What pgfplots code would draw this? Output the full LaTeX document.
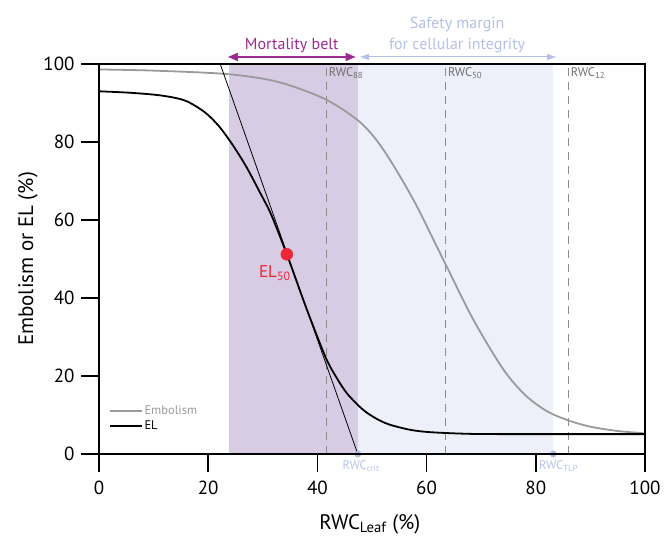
\documentclass[border=0pt]{standalone}
\usepackage{fontspec}
\setmainfont{PT Sans}
\usepackage{pgfplots}
\pgfplotsset{compat=1.18}
\usetikzlibrary{arrows.meta}
\definecolor{embgray}{HTML}{9A9A9A}
\definecolor{beltfill}{HTML}{D8CCE4}
\definecolor{safefill}{HTML}{EDF0F9}
\definecolor{beltdark}{HTML}{9C2A93}
\definecolor{safedark}{HTML}{B4C0E8}
\definecolor{dashgray}{HTML}{8C8C8C}
\definecolor{labgray}{HTML}{6E6E6E}
\definecolor{ptblue}{HTML}{A9BDE2}
\definecolor{ptlab}{HTML}{B6C3E8}
\definecolor{elred}{HTML}{EE2636}

\begin{document}
\begin{tikzpicture}
\begin{axis}[
  set layers,
  at={(0,0)}, anchor=south west,
  scale only axis, width=546pt, height=390pt,
  xmin=0, xmax=100, ymin=0, ymax=100,
  xtick={0,20,...,100}, ytick={0,20,...,100},
  xtick pos=bottom, ytick pos=left,
  tick align=outside, major tick length=18pt,
  tick style={line width=1.5pt, black},
  axis line style={line width=1.3pt},
  ticklabel style={font=\fontsize{19}{22}\selectfont},
  xticklabel style={yshift=-5pt},
  yticklabel style={xshift=-3pt},
  /pgf/number format/assume math mode=true,
  xlabel={RWC\textsubscript{Leaf} (\%)},
  ylabel={Embolism or EL (\%)},
  label style={font=\fontsize{21}{24}\selectfont},
  xlabel style={at={(axis description cs:0.496,-0.18)}, anchor=center},
  ylabel style={at={(axis description cs:-0.13,0.5)}, anchor=center},
  clip=false,
  axis on top,
  legend style={draw=none, fill=none, at={(0.012,0.135)}, anchor=north west,
    font=\fontsize{12.5}{14}\selectfont, row sep=1pt},
  legend cell align=left,
  legend image code/.code={\draw[#1, line width=1.8pt] (0pt,0pt) -- (32pt,0pt);},
]
% shaded zones
\addplot[draw=none, fill=beltfill, forget plot] coordinates {(23.8,100) (47.4,100)} \closedcycle;
\addplot[draw=none, fill=safefill, forget plot] coordinates {(47.4,100) (83.2,100)} \closedcycle;

% RWC thresholds
\addplot[dashgray, line width=0.9pt, dash pattern=on 8pt off 6pt, forget plot] coordinates {(41.6,0) (41.6,100)};
\addplot[dashgray, line width=0.9pt, dash pattern=on 8pt off 6pt, forget plot] coordinates {(63.4,0) (63.4,100)};
\addplot[dashgray, line width=0.9pt, dash pattern=on 8pt off 6pt, forget plot] coordinates {(85.9,0) (85.9,100)};

% embolism
\addplot[embgray, line width=1.8pt, smooth] coordinates {
  (0,98.6) (10,98.3) (23.6,97.4) (32.8,95.4) (41.4,91.0) (47.8,85.1)
  (52.0,78.2) (57.5,65.4) (63.0,50.0) (68.5,34.6) (74,21.8) (78,15.2)
  (82,11.0) (86,8.6) (90,7.0) (95,5.9) (100,5.3)
};
\addlegendentry{\textcolor{embgray}{Embolism}}

% electrolyte leakage
\addplot[black, line width=1.8pt, smooth] coordinates {
  (0,93.0) (6,92.6) (11.5,91.9) (15.8,90.6) (19.4,87.6) (22,84.0)
  (24.5,79.2) (27,73.6) (29.5,67.0) (31.5,61.5) (34.4,51.2) (38,37.3)
  (41.5,24.8) (43.5,19.6) (45.5,15.4) (48.4,11.3) (51,8.9) (53.3,7.5)
  (57,6.2) (60.6,5.6) (67,5.2) (73.4,5.1) (100,5.1)
};
\addlegendentry{EL}

% tangent at EL50
\addplot[black, line width=0.8pt, forget plot] coordinates {(22.2,100) (47.4,0)};

% points
\addplot[only marks, mark=*, mark size=6pt, color=elred, forget plot] coordinates {(34.4,51.2)};
\addplot[only marks, mark=*, mark size=3.2pt, color=ptblue, on layer=axis foreground, forget plot]
  coordinates {(47.4,0) (83.2,0)};

% labels
\node[elred, anchor=center, font=\fontsize{17}{19}\selectfont] at (axis cs:32.2,46.4) {EL\textsubscript{50}};
\node[labgray, anchor=north west, inner sep=1pt, font=\fontsize{12.5}{14}\selectfont] at (axis cs:41.9,99.3) {RWC\textsubscript{88}};
\node[labgray, anchor=north west, inner sep=1pt, font=\fontsize{12.5}{14}\selectfont] at (axis cs:63.7,99.3) {RWC\textsubscript{50}};
\node[labgray, anchor=north west, inner sep=1pt, font=\fontsize{12.5}{14}\selectfont] at (axis cs:86.2,99.3) {RWC\textsubscript{12}};
\node[ptlab, anchor=north west, inner sep=1pt, font=\fontsize{12.5}{14}\selectfont] at (axis cs:44.4,-1.4) {RWC\textsubscript{crit}};
\node[ptlab, anchor=north west, inner sep=1pt, font=\fontsize{12.5}{14}\selectfont] at (axis cs:80.4,-1.4) {RWC\textsubscript{TLP}};

% zone arrows and titles
\draw[beltdark, line width=1.5pt, {Triangle[length=10pt,width=8pt]}-{Triangle[length=10pt,width=8pt]}]
  (axis cs:23.6,101.8) -- (axis cs:47.0,101.8);
\draw[safedark, line width=1pt, {Triangle[length=9pt,width=6pt]}-{Triangle[length=9pt,width=6pt]}]
  (axis cs:47.8,101.8) -- (axis cs:83.7,101.8);
\node[beltdark, anchor=base, font=\fontsize{16}{18}\selectfont] at (axis cs:35.3,103.8) {Mortality belt};
\node[safedark, anchor=base, font=\fontsize{16}{18}\selectfont] at (axis cs:65.6,109.2) {Safety margin};
\node[safedark, anchor=base, font=\fontsize{16}{18}\selectfont] at (axis cs:65.6,103.8) {for cellular integrity};
\end{axis}
\pgfresetboundingbox
\useasboundingbox (-99pt,-84pt) rectangle (566pt,454pt);
\end{tikzpicture}
\end{document}
